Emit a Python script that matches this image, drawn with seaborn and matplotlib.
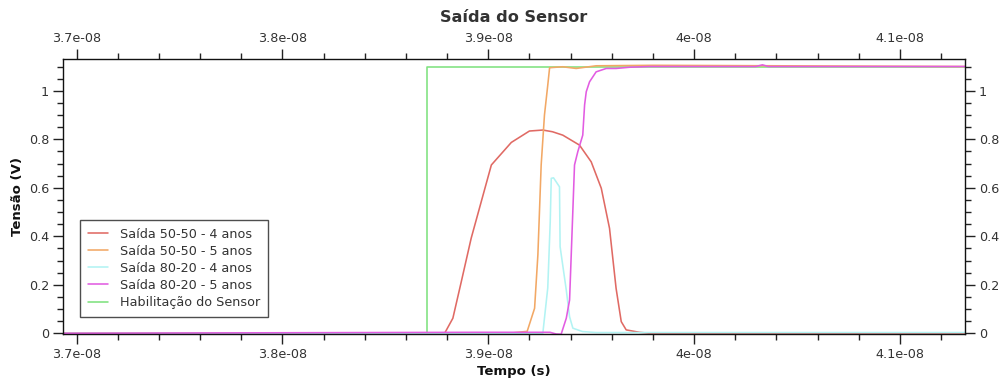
import numpy as np
import pandas as pd
import matplotlib
matplotlib.use("Agg")
import matplotlib.pyplot as plt
from matplotlib.ticker import FixedLocator, FuncFormatter
import seaborn as sns

# ---- data (time in seconds, voltage in V) ----
t_red = [36.93e-9, 38.788e-9, 38.828e-9, 38.869e-9, 38.917e-9, 39.015e-9, 39.112e-9, 39.200e-9,
         39.265e-9, 39.312e-9, 39.362e-9, 39.443e-9, 39.500e-9, 39.549e-9, 39.589e-9, 39.621e-9,
         39.646e-9, 39.670e-9, 39.734e-9, 39.783e-9, 41.32e-9]
v_red = [0.0, 0.0, 0.062, 0.213, 0.392, 0.694, 0.787, 0.834,
         0.838, 0.831, 0.817, 0.776, 0.707, 0.598, 0.433, 0.185,
         0.048, 0.014, 0.004, 0.0, 0.0]

t_orange = [36.93e-9, 39.10e-9, 39.189e-9, 39.225e-9, 39.241e-9, 39.257e-9, 39.273e-9, 39.289e-9,
            39.298e-9, 39.361e-9, 39.427e-9, 39.524e-9, 39.80e-9, 41.32e-9]
v_orange = [0.0, 0.0, 0.008, 0.103, 0.323, 0.694, 0.900, 1.023,
            1.095, 1.099, 1.092, 1.103, 1.105, 1.100]

t_cyan = [36.93e-9, 39.265e-9, 39.289e-9, 39.301e-9, 39.306e-9, 39.317e-9, 39.346e-9, 39.349e-9,
          39.379e-9, 39.395e-9, 39.411e-9, 39.458e-9, 39.524e-9, 41.32e-9]
v_cyan = [0.0, 0.0, 0.187, 0.460, 0.639, 0.641, 0.604, 0.357,
          0.178, 0.068, 0.021, 0.007, 0.003, 0.003]

t_mag = [36.93e-9, 38.95e-9, 39.30e-9, 39.33e-9, 39.354e-9, 39.379e-9, 39.395e-9, 39.403e-9,
         39.419e-9, 39.435e-9, 39.459e-9, 39.468e-9, 39.476e-9, 39.492e-9, 39.524e-9, 39.573e-9,
         39.621e-9, 39.686e-9, 39.783e-9, 40.30e-9, 40.332e-9, 40.36e-9, 41.32e-9]
v_mag = [0.0, 0.004, 0.004, -0.003, -0.004, 0.062, 0.137, 0.323,
         0.694, 0.749, 0.817, 0.942, 0.996, 1.037, 1.078, 1.092,
         1.092, 1.097, 1.100, 1.100, 1.107, 1.100, 1.100]

t_green = [36.93e-9, 38.70e-9, 38.70e-9, 41.32e-9]
v_green = [0.0, 0.0, 1.10, 1.10]

labels = ["Saída 50-50 - 4 anos", "Saída 50-50 - 5 anos", "Saída 80-20 - 4 anos",
          "Saída 80-20 - 5 anos", "Habilitação do Sensor"]
colors = ["#e06a64", "#f2a865", "#b2f3f3", "#e25ce2", "#7fe27f"]

x_major = [3.7e-8, 3.8e-8, 3.9e-8, 4.0e-8, 4.1e-8]
x_minor = [3.72e-8, 3.74e-8, 3.76e-8, 3.78e-8, 3.82e-8, 3.84e-8, 3.86e-8, 3.88e-8,
           3.92e-8, 3.94e-8, 3.96e-8, 3.98e-8, 4.02e-8, 4.04e-8, 4.06e-8, 4.08e-8,
           4.12e-8]
y_major = [0, 0.2, 0.4, 0.6, 0.8, 1.0]
y_minor = [0.05, 0.1, 0.15, 0.25, 0.3, 0.35, 0.45, 0.5, 0.55, 0.65, 0.7, 0.75,
           0.85, 0.9, 0.95, 1.05, 1.1]

series = {
    labels[0]: (t_red, v_red),
    labels[1]: (t_orange, v_orange),
    labels[2]: (t_cyan, v_cyan),
    labels[3]: (t_mag, v_mag),
    labels[4]: (t_green, v_green),
}

sns.set_theme(style="ticks")
plt.rcParams["font.family"] = ["DejaVu Sans"]

fig = plt.figure(figsize=(10.02, 3.79), dpi=100)
ax = fig.add_axes([63 / 1002, 1 - 334 / 379, (965 - 63) / 1002, (334 - 59) / 379])

draw_order = [4, 0, 1, 2, 3]
handles = {}
for i in draw_order:
    lab = labels[i]
    t, v = series[lab]
    df = pd.DataFrame({"t": t, "v": v})
    sns.lineplot(data=df, x="t", y="v", ax=ax, color=colors[i], linewidth=1.15,
                 estimator=None, sort=False, label=lab, legend=False)
    handles[lab] = ax.lines[-1]

ax.set_xlim(36.934e-9, 41.316e-9)
ax.set_ylim(-0.003, 1.131)
ax.set_xlabel("")
ax.set_ylabel("")

fmt = FuncFormatter(lambda x, p: "%g" % x)
ax.xaxis.set_major_locator(FixedLocator(x_major))
ax.xaxis.set_minor_locator(FixedLocator(x_minor))
ax.yaxis.set_major_locator(FixedLocator(y_major))
ax.yaxis.set_minor_locator(FixedLocator(y_minor))
ax.xaxis.set_major_formatter(fmt)
ax.yaxis.set_major_formatter(fmt)
ax.tick_params(which="both", direction="out", top=True, right=True, labeltop=True,
               labelright=True, colors="#222222", labelcolor="#333333", labelsize=9.2, width=1)
ax.tick_params(which="major", length=7, pad=3)
ax.tick_params(which="minor", length=4)
for s in ax.spines.values():
    s.set_visible(True)
    s.set_color("#111111")
    s.set_linewidth(1)

leg = ax.legend([handles[l] for l in labels], labels, loc="lower left",
                bbox_to_anchor=(0.019, 0.063), borderaxespad=0, fontsize=9.2,
                frameon=True, fancybox=False, shadow=False, handlelength=1.6,
                labelspacing=0.32, borderpad=0.6, handletextpad=0.9)
leg.get_frame().set_edgecolor("#222222")
leg.get_frame().set_linewidth(1)
for tx in leg.get_texts():
    tx.set_color("#333333")

fig.text(514 / 1002, 1 - 18 / 379, "Saída do Sensor", ha="center", va="center",
         fontsize=11.6, fontweight="bold", color="#333333")
fig.text(514 / 1002, 1 - 372 / 379, "Tempo (s)", ha="center", va="center",
         fontsize=9.5, fontweight="bold", color="#111111")
fig.text(18 / 1002, 1 - 196 / 379, "Tensão (V)", ha="center", va="center", rotation=90,
         fontsize=9.5, fontweight="bold", color="#111111")

fig.savefig("out.png", dpi=100, facecolor="white")
